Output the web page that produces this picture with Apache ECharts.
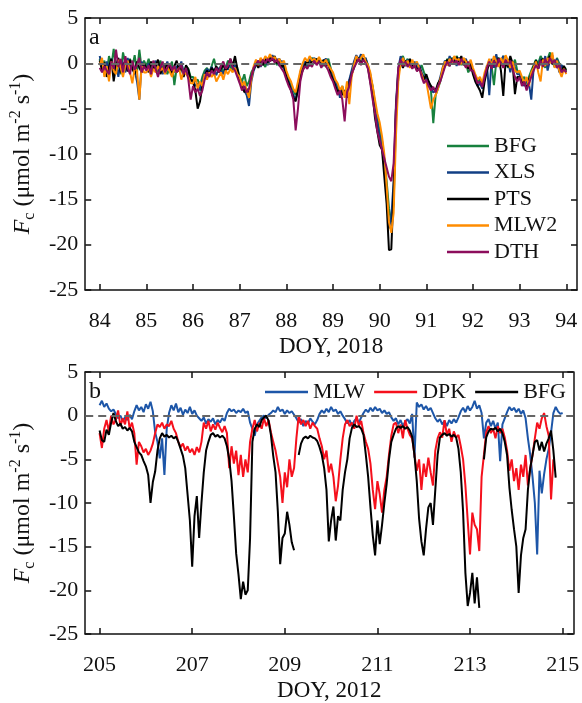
<!DOCTYPE html>
<html lang="en">
<head>
    <meta charset="UTF-8">
    <title>Fc</title>
    <style>
        html, body { margin: 0; padding: 0; background: #fff; }
    </style>
</head>
<body>
<div id="main" style="width:582px;height:703px"></div>
<script src="https://cdn.jsdelivr.net/npm/echarts@6/dist/echarts.min.js"></script>
<script>
    // values: one value every 0.05 day
    var step = 0.05;
    var startA = 84, startB = 205;
    var ticksA = [84, 85, 86, 87, 88, 89, 90, 91, 92, 93, 94];
    var ticksB = [205, 207, 209, 211, 213, 215];

    // panel a, DOY 84-94, 2018
    var bfgA = [
        0.5,-0.5,0.3,-1.0,0.8,-0.3,1.6,-0.5,0.2,-1.2,1.2,0.0,-0.8,0.5,-0.4,0.9,-1.0,1.5,-0.6,0.3,
        -0.3,0.5,-0.8,0.2,-0.5,-1.0,0.3,-0.6,-0.2,-1.2,-0.4,0.2,-2.4,-0.5,-0.8,0.0,-1.0,-0.3,-0.6,-1.5,
        -1.5,-2.0,-1.8,-2.5,-1.5,-0.8,-0.5,-1.0,-0.3,0.5,-0.6,-0.8,-0.2,-1.0,-0.5,0.3,-0.4,-0.8,0.2,-0.5,
        -1.5,-2.0,-1.2,-2.5,-2.0,-1.0,-0.5,0.2,-0.3,0.5,0.0,-0.4,0.6,0.2,0.8,0.3,-0.2,0.4,-0.5,0.0,
        -1.0,-1.8,-2.5,-3.0,-3.5,-2.5,-1.2,-0.5,0.0,-0.4,0.3,0.6,0.2,0.5,0.0,0.3,-0.3,0.2,0.5,-0.5,
        -1.5,-2.0,-2.8,-3.2,-2.5,-3.5,-2.8,-2.0,-1.0,-0.3,0.5,0.2,0.8,0.3,0.5,-0.2,-1.5,-2.5,-4.5,-6.0,
        -7.5,-8.5,-10.5,-13.0,-16.0,-17.5,-15.5,-6.0,-1.5,0.5,0.8,0.0,0.5,-0.3,0.2,-0.5,0.0,-0.8,-0.2,-1.0,
        -1.5,-2.0,-3.0,-6.6,-3.5,-2.8,-2.0,-1.0,-0.2,0.5,0.0,0.6,0.2,0.8,0.3,-0.2,0.4,0.0,-1.0,-0.5,
        -0.8,-1.5,-2.0,-1.8,-2.5,-1.5,-0.5,0.3,-0.3,-2.4,0.2,0.6,-0.2,0.8,0.3,-0.5,0.5,-0.2,0.4,-0.8,
        -1.0,-1.8,-1.5,-2.2,-1.5,-0.8,-0.2,0.4,0.0,0.8,0.3,-0.5,0.5,1.2,0.2,-0.4,0.6,0.0,-0.3,-0.6,
        -0.5
    ];
    var xlsA = [
        0.8,-0.3,-1.2,0.2,-0.6,0.5,-0.9,0.0,-1.5,0.4,-0.2,-1.0,0.6,-0.5,0.1,-0.8,-2.0,-4.0,0.2,-0.5,
        -0.6,0.0,-1.0,-0.4,0.3,-0.8,-0.2,-1.2,-0.5,0.2,-0.9,-0.4,-1.0,-0.3,-0.6,0.2,-1.2,-0.5,-0.8,-2.0,
        -1.8,-2.5,-2.2,-3.0,-2.0,-1.2,-0.6,-1.0,-0.4,-0.9,-1.3,-0.5,-0.8,-1.2,-0.3,-0.7,0.2,-0.5,-0.2,-0.8,
        -2.0,-2.5,-3.0,-3.5,-4.7,-2.0,-0.8,-0.2,0.3,-0.4,0.2,0.6,-0.2,0.4,0.9,0.2,0.5,-0.3,0.3,-0.6,
        -1.2,-2.0,-2.8,-3.5,-4.0,-3.0,-1.0,-0.3,0.2,-0.2,0.5,0.2,0.6,0.0,0.4,-0.1,0.3,0.5,0.0,-0.8,
        -1.2,-2.2,-2.5,-3.8,-3.0,-3.2,-2.6,-1.8,-0.8,0.2,0.9,0.4,1.0,0.2,0.6,-0.3,-1.2,-3.0,-5.0,-6.5,
        -8.0,-9.0,-11.5,-14.5,-18.2,-17.0,-13.0,-4.5,-0.5,0.8,0.2,-0.3,0.4,0.0,-0.5,0.2,-0.6,-0.2,-1.0,-1.5,
        -1.8,-2.2,-2.8,-3.2,-3.0,-2.5,-1.5,-0.5,0.3,-0.2,0.8,0.2,0.5,-0.3,0.6,0.2,0.0,0.5,-0.5,-0.2,
        -1.0,-1.8,-2.5,-2.2,-2.8,-1.8,-0.2,-3.5,0.5,-0.5,1.0,-0.3,0.3,0.8,-0.2,0.4,-1.0,0.2,-0.5,-1.2,
        -1.2,-2.0,-2.5,-1.8,-2.2,-4.0,-0.6,0.2,-0.5,0.5,-0.2,0.8,-0.8,0.3,0.9,-0.3,0.5,-1.0,-0.2,-0.5,
        -1.0
    ];
    var ptsA = [
        0.3,-0.8,0.1,-1.5,-0.4,0.5,-2.0,-0.3,0.6,-1.0,-0.2,0.3,-0.9,0.4,-0.6,-1.2,0.2,-0.5,-1.0,0.0,
        -0.5,-1.0,0.2,-0.6,-0.3,0.4,-1.2,-0.5,-0.8,0.0,-0.6,-1.1,-0.3,0.3,-0.9,-0.4,-1.5,-0.2,-0.7,-1.8,
        -2.0,-3.0,-5.0,-4.2,-2.5,-1.5,-0.8,-1.2,-0.5,-0.9,-0.3,-1.0,-0.6,-0.2,-0.8,-0.4,0.5,-0.3,0.8,-0.6,
        -1.8,-2.2,-3.2,-2.8,-3.5,-1.5,-0.6,0.0,-0.5,0.3,-0.2,0.4,0.1,0.7,0.3,0.8,0.0,0.5,-0.4,-0.2,
        -1.5,-2.2,-3.0,-3.8,-4.2,-2.8,-1.5,-0.8,-0.2,0.3,-0.3,0.4,0.0,0.5,0.2,-0.2,0.4,-0.4,0.1,-1.2,
        -1.8,-2.5,-3.2,-2.8,-3.5,-3.0,-3.8,-2.2,-1.2,-0.5,0.2,0.6,0.0,0.5,0.3,-0.5,-2.0,-3.5,-6.0,-7.5,
        -9.0,-9.5,-12.5,-15.5,-20.6,-20.5,-14.0,-5.0,-1.0,0.2,-0.5,0.3,-0.2,0.5,-0.3,0.0,-0.8,-0.4,-1.2,-1.8,
        -1.2,-2.0,-2.5,-2.8,-3.0,-2.2,-1.8,-0.8,0.0,0.4,-0.3,0.5,0.0,0.7,0.2,0.8,-0.2,0.3,-0.6,0.0,
        -1.2,-2.0,-2.5,-3.0,-3.8,-2.0,-0.8,0.0,-0.5,0.4,-0.2,0.6,-0.8,-3.6,0.3,-0.4,0.8,0.0,-3.4,-1.5,
        -1.5,-2.2,-2.0,-2.8,-1.8,-1.2,-0.4,0.3,-0.6,0.2,0.5,-0.2,0.4,0.8,-0.1,0.3,0.0,-0.5,-0.8,-0.3,
        -0.8
    ];
    var mlw2A = [
        -0.2,0.6,-1.5,-0.3,-2.0,0.2,-0.8,-1.2,0.4,-0.5,-1.5,-0.2,0.3,-1.0,-2.2,-0.5,-0.8,-4.0,-0.3,-1.0,
        -1.0,-0.4,-1.5,-0.6,-1.0,-0.3,-0.8,-0.5,-1.2,-0.4,-0.9,-1.5,-0.6,-1.0,-0.5,-1.8,-0.8,-1.2,-1.5,-2.2,
        -2.2,-1.5,-2.8,-2.0,-2.5,-1.2,-1.8,-1.0,-1.5,-1.1,-2.0,-1.5,-1.0,-1.8,-0.8,-1.2,-0.6,-1.0,-0.5,-1.2,
        -1.5,-2.5,-2.0,-3.0,-3.8,-1.8,-0.3,0.4,-0.2,0.6,0.2,0.8,0.4,1.0,0.5,0.7,0.2,0.5,-0.1,0.3,
        -0.8,-1.5,-2.0,-2.8,-3.2,-2.0,-0.8,0.0,0.6,0.2,0.8,0.3,0.5,0.1,0.7,0.2,0.0,0.4,-0.2,-0.6,
        -1.0,-1.8,-2.2,-3.0,-2.5,-3.8,-2.0,-4.5,-1.5,-0.2,0.8,0.3,0.6,1.0,0.2,-0.2,-1.0,-2.5,-4.0,-5.5,
        -6.5,-8.0,-10.0,-13.5,-17.5,-18.7,-16.5,-8.0,-2.0,0.0,0.6,-0.2,0.3,-0.5,0.4,-0.3,0.2,-0.6,-1.2,-2.0,
        -2.0,-3.5,-5.0,-4.0,-3.5,-2.8,-1.8,-0.6,0.2,-0.2,0.5,0.0,0.8,0.3,0.5,-0.1,0.6,0.2,-0.3,0.4,
        -0.5,-1.2,-1.8,-1.5,-2.2,-1.0,-0.3,0.5,-0.2,0.8,0.2,-0.4,0.6,0.0,0.9,0.3,-0.5,0.2,-0.8,-1.0,
        -0.8,-1.5,-2.2,-1.5,-2.5,-1.0,-0.5,0.2,-1.0,-2.0,0.4,-0.3,0.6,0.0,1.2,-0.5,0.3,-0.8,-1.5,-0.6,
        -1.2
    ];
    var dthA = [
        -0.5,-1.0,-0.3,-0.8,-1.2,0.2,-0.6,1.5,-0.4,0.5,-1.0,0.8,-0.5,-1.2,0.3,-0.7,-0.2,0.6,-1.0,-0.3,
        -0.8,-0.2,-1.2,0.3,-0.6,-1.5,-0.4,0.2,-1.0,-0.5,0.0,-0.8,-0.3,-1.0,-0.6,-0.2,-1.2,-0.5,-1.8,-4.0,
        -2.5,-3.2,-2.8,-3.6,-3.0,-1.8,-1.0,-1.5,-0.8,-1.2,-0.5,-1.0,-0.3,0.2,-0.6,-0.3,0.5,-0.4,-0.8,-1.5,
        -2.2,-3.0,-2.5,-3.2,-2.8,-1.5,-0.5,-0.1,0.3,-0.3,0.4,0.0,0.5,0.2,0.6,0.1,0.4,-0.2,-0.6,-1.0,
        -1.8,-2.5,-3.0,-4.0,-7.4,-5.0,-2.0,-0.8,-0.3,-0.6,0.0,-0.4,0.3,-0.2,0.2,-0.5,0.0,-0.3,-0.8,-1.5,
        -2.0,-2.8,-3.5,-3.0,-4.0,-6.4,-3.2,-2.5,-1.2,-0.5,0.0,0.5,-0.2,0.4,0.0,-0.6,-2.2,-4.0,-5.5,-7.5,
        -8.5,-9.5,-10.5,-11.5,-12.5,-13.0,-11.0,-5.0,-0.5,0.4,-0.3,0.2,-0.4,0.0,-0.6,-0.2,-0.9,-0.5,-1.5,-2.2,
        -1.8,-2.5,-3.0,-2.6,-3.2,-2.5,-2.0,-1.2,-0.4,0.2,-0.3,0.4,0.0,0.3,-0.2,0.5,0.0,-0.5,0.2,-0.8,
        -0.8,-1.5,-2.2,-2.0,-2.6,-1.5,-0.5,0.2,-0.6,0.3,-0.4,0.5,0.0,-0.5,0.4,-0.2,0.3,-0.6,-1.5,-2.0,
        -1.5,-2.5,-2.0,-3.0,-2.2,-1.5,-0.8,-0.2,-0.6,0.3,-0.4,0.5,-0.2,0.6,0.0,0.4,-0.5,-0.2,-1.0,-0.7,
        -1.0
    ];

    // panel b, DOY 205-215, 2012 (null = gap in record)
    var mlwB = [
        1.2,1.7,1.0,1.4,0.8,0.5,0.7,0.2,-0.3,0.0,-0.6,-0.2,-0.5,0.1,-0.4,0.5,1.2,0.6,1.0,0.4,
        1.3,0.8,1.6,0.5,-1.9,-3.0,-4.9,-2.6,-6.8,-1.5,0.3,1.2,0.6,1.4,0.4,0.9,0.1,0.7,0.3,1.0,
        0.2,0.6,0.0,-0.3,-0.6,-0.2,-0.9,-0.4,-0.7,-0.3,-1.0,-0.5,-0.8,-0.3,-0.6,0.3,0.8,0.5,0.7,0.3,
        0.6,0.4,0.8,0.3,0.5,-0.8,-1.5,-2.3,-1.0,-0.6,-0.2,0.0,-0.3,0.1,0.3,0.6,0.4,1.0,0.5,0.7,
        0.2,0.6,0.3,0.5,0.1,-0.3,-0.8,-0.4,-1.2,-0.6,-0.9,-0.3,-0.7,-1.0,-0.5,0.2,0.6,0.3,0.8,0.4,
        1.0,0.5,0.7,0.2,0.5,0.0,-0.4,-0.9,-0.5,-1.2,-0.6,-0.3,-0.8,-0.2,0.3,0.7,0.4,0.9,0.5,1.0,
        0.6,0.8,0.3,0.6,0.2,0.4,-0.2,-0.6,-0.3,-1.0,-0.5,-1.2,-0.7,-0.4,-0.9,0.2,-4.8,1.5,1.0,1.3,
        0.7,1.1,0.6,0.9,0.3,-0.3,-0.7,-0.4,-1.0,-0.6,-1.2,-0.5,-0.9,-0.4,-0.8,-0.2,0.5,0.9,0.4,1.1,
        0.6,1.0,1.7,0.8,1.2,0.3,-2.6,-0.8,-0.4,-1.2,-0.6,-1.5,-0.8,-5.2,-1.0,-0.3,0.4,1.0,0.6,0.9,
        0.4,0.8,0.2,0.6,-0.3,-2.6,-4.5,-7.0,-10.0,-15.9,-6.3,-8.9,-6.7,-5.0,-3.8,-1.9,0.3,1.0,0.5,0.2,
        0.3
    ];
    var dpkB = [
        -2.0,-3.7,-1.5,-0.5,-1.8,0.0,-1.0,-0.5,0.6,-1.2,-0.3,-1.0,0.5,-1.5,-0.8,-2.0,-5.6,-3.0,-3.5,-4.2,
        -3.8,-4.5,-4.0,-3.2,-2.0,-1.0,-1.3,-0.8,-1.5,-1.0,-1.2,-0.6,-1.5,-2.0,-3.0,-3.6,-3.2,-4.0,-3.5,-4.2,
        -3.8,-4.5,-3.6,-4.2,-3.0,-0.8,-1.5,-0.6,-1.8,-1.0,-1.6,-0.8,-1.4,-1.9,-1.2,-2.0,-6.0,-3.5,-5.5,-4.0,
        -6.8,-4.5,-7.0,-5.0,-6.5,-3.0,-1.5,-0.5,-1.8,-0.8,-1.5,-0.3,-1.2,-0.5,-1.9,-3.0,-4.0,-5.5,-7.0,-10.0,
        -6.5,-8.2,-5.0,-7.0,-6.0,-2.6,0.0,-1.0,-0.5,-1.2,-0.6,-1.5,-0.8,-1.2,-1.5,-2.6,-3.5,-5.0,-4.0,-6.5,
        -5.5,-7.0,-9.8,-8.0,-5.0,-2.6,-1.0,-0.5,-1.2,-0.8,-1.5,0.0,-1.2,-0.6,-2.0,-3.0,-3.8,-5.5,-8.5,-10.7,
        -7.5,-9.0,-11.1,-8.5,-7.0,-4.5,-2.3,-1.0,-0.8,-2.0,-1.0,-2.6,-0.5,-1.5,-2.2,-2.6,-4.5,-6.3,-5.0,-8.5,
        -5.5,-7.0,-4.8,-6.5,-8.0,-4.0,-2.6,-1.9,-2.5,-0.5,-2.2,-1.5,-3.0,-1.8,-2.5,-2.2,-3.5,-5.0,-8.0,-12.0,
        -15.9,-11.1,-12.5,-13.0,-15.5,-7.0,-4.5,-1.9,-1.2,-2.0,-1.5,-2.6,-1.2,-2.0,-1.5,-2.5,-4.0,-6.3,-5.0,-7.5,
        -6.0,-8.5,-5.6,-7.0,-4.5,-8.0,-6.0,-4.5,-2.6,-0.8,-1.5,-0.3,0.3,-1.2,-2.3,-9.6,-5.0,null,null,null,
        null
    ];
    var bfgB = [
        -1.7,-2.8,-3.0,-1.6,-2.2,-0.8,0.3,-0.6,-1.2,-0.9,-1.5,-1.3,-1.7,-1.4,-1.8,-3.0,-3.6,-4.2,-4.5,-5.2,
        -5.8,-6.8,-10.0,-7.6,-6.4,-4.0,-2.6,-2.0,-2.4,-2.2,-2.5,-2.3,-2.6,-2.4,-3.0,-3.8,-4.6,-6.0,-9.0,-12.0,
        -17.3,-11.5,-9.2,-14.0,-10.0,-6.5,-4.0,-3.0,-2.2,-2.0,-2.4,-2.2,-2.5,-2.3,-2.6,-3.5,-5.0,-7.5,-11.5,-15.8,
        -18.2,-21.0,-19.0,-20.5,-20.0,-14.0,-3.0,-1.5,-1.0,-1.3,-0.5,-0.2,0.0,-0.6,-2.2,-4.6,-6.5,-11.0,-17.0,-14.0,
        -13.5,-11.0,-12.5,-14.5,-15.4,null,-4.5,-3.2,-2.6,-2.4,-2.6,-2.3,-2.5,-2.6,-2.9,-3.6,-4.5,-6.0,-8.5,-14.4,
        -12.0,-10.4,-14.3,-11.5,-12.0,-8.5,-6.5,-5.0,-2.6,-1.4,-1.0,-1.3,-1.2,-1.5,-2.2,-4.5,-7.0,-10.5,-13.7,-16.0,
        -12.0,-14.7,-12.5,-10.0,-7.8,-5.0,-3.0,-2.2,-1.5,-1.2,-1.4,-1.2,-1.5,-1.3,-1.7,-2.4,-4.5,-7.5,-11.8,-14.4,
        -16.0,-13.0,-10.5,-10.0,-12.5,-8.5,-4.5,-2.5,-2.2,-2.0,-2.3,-2.1,-2.4,-2.2,-2.5,-3.8,-6.5,-11.0,-18.0,-21.8,
        -20.3,-18.0,-21.5,-18.5,-22.0,null,-5.0,-2.5,-1.8,-1.5,-1.6,-1.4,-1.8,-1.5,-2.0,-3.0,-4.5,-8.2,-10.8,-13.0,
        -15.0,-20.3,-16.0,-14.0,-13.0,-8.5,-6.0,-4.5,-3.0,-2.8,-4.0,-3.0,-4.1,-3.2,-2.6,-1.7,-4.0,-7.1,null,null,
        null
    ];

    var FONT = 'Liberation Serif';

    function pairs(start, vals) {
        return vals.map(function (v, i) {
            return [+(start + i * step).toFixed(2), v];
        });
    }

    function lineSeries(name, color, start, vals, gi) {
        return {
            name: name,
            type: 'line',
            xAxisIndex: gi * 2,
            yAxisIndex: gi * 2,
            data: pairs(start, vals),
            showSymbol: false,
            symbol: 'none',
            connectNulls: false,
            color: color,
            lineStyle: { color: color, width: 2 },
            animation: false
        };
    }

    // dashed zero reference, carried on the first series of each panel
    function zeroLine(s) {
        s.markLine = {
            silent: true,
            symbol: 'none',
            label: { show: false },
            lineStyle: { color: '#666', type: [8, 5], width: 2 },
            data: [{ yAxis: 0 }]
        };
        return s;
    }

    var axisLine = { show: true, onZero: false, lineStyle: { color: '#111', width: 1.5 } };
    var tickStyle = { inside: true, length: 6, lineStyle: { color: '#111', width: 1.5 } };
    var labelStyle = { color: '#111', fontFamily: FONT, fontSize: 22 };

    var yName = '{i|F}{sub|c}{t| (μmol m}{sup|-2}{t| s}{sup|-1}{t|)}';
    var yRich = {
        i: { fontFamily: FONT, fontSize: 24, fontStyle: 'italic', lineHeight: 30, verticalAlign: 'middle' },
        sub: { fontFamily: FONT, fontSize: 16, lineHeight: 30, verticalAlign: 'bottom' },
        t: { fontFamily: FONT, fontSize: 24, lineHeight: 30, verticalAlign: 'middle' },
        sup: { fontFamily: FONT, fontSize: 16, lineHeight: 30, verticalAlign: 'top' }
    };

    function xAxes(gi, min, max, ticks, name) {
        return [{
            gridIndex: gi, type: 'value', position: 'bottom', min: min, max: max,
            axisLine: axisLine,
            axisTick: Object.assign({ customValues: ticks }, tickStyle),
            axisLabel: Object.assign({ customValues: ticks, margin: 20 }, labelStyle),
            splitLine: { show: false },
            name: name, nameLocation: 'middle', nameGap: 45,
            nameTextStyle: { color: '#111', fontFamily: FONT, fontSize: 23 }
        }, {
            gridIndex: gi, type: 'value', position: 'top', min: min, max: max,
            axisLine: axisLine,
            axisTick: Object.assign({ customValues: ticks }, tickStyle),
            axisLabel: { show: false },
            splitLine: { show: false }
        }];
    }

    function yAxes(gi) {
        return [{
            gridIndex: gi, type: 'value', position: 'left', min: -25, max: 5, interval: 5,
            axisLine: axisLine, axisTick: tickStyle,
            axisLabel: Object.assign({ margin: 7 }, labelStyle),
            splitLine: { show: false },
            name: yName, nameLocation: 'middle', nameRotate: 90, nameGap: 40,
            nameTextStyle: { color: '#111', rich: yRich }
        }, {
            gridIndex: gi, type: 'value', position: 'right', min: -25, max: 5, interval: 5,
            axisLine: axisLine, axisTick: tickStyle,
            axisLabel: { show: false },
            splitLine: { show: false }
        }];
    }

    var seriesA = [
        zeroLine(lineSeries('BFG', '#17803d', startA, bfgA, 0)),
        lineSeries('XLS', '#123f85', startA, xlsA, 0),
        lineSeries('PTS', '#000000', startA, ptsA, 0),
        lineSeries('MLW2', '#ff8c00', startA, mlw2A, 0),
        lineSeries('DTH', '#8c0d5c', startA, dthA, 0)
    ];
    // trailing space keeps this BFG apart from panel a's BFG in the legends
    var seriesB = [
        zeroLine(lineSeries('MLW', '#1d56a8', startB, mlwB, 1)),
        lineSeries('DPK', '#f5101c', startB, dpkB, 1),
        lineSeries('BFG ', '#000000', startB, bfgB, 1)
    ];

    var legendText = { fontFamily: FONT, fontSize: 22, color: '#111' };

    var myChart = echarts.init(document.getElementById('main'));
    myChart.setOption({
        backgroundColor: '#fff',
        animation: false,
        title: [
            { text: 'a', left: 84, top: 21, textStyle: { fontFamily: FONT, fontSize: 24, fontWeight: 'normal', color: '#111' } },
            { text: 'b', left: 84, top: 375, textStyle: { fontFamily: FONT, fontSize: 24, fontWeight: 'normal', color: '#111' } }
        ],
        grid: [
            { left: 79, top: 18, width: 498, height: 272 },
            { left: 79, top: 372, width: 498, height: 272 }
        ],
        legend: [{
            data: ['BFG', 'XLS', 'PTS', 'MLW2', 'DTH'],
            orient: 'vertical', left: 442, top: 130,
            icon: 'rect', itemWidth: 42, itemHeight: 2.5, itemGap: 4.5,
            textStyle: legendText
        }, {
            data: ['MLW', 'DPK', 'BFG '],
            orient: 'horizontal', left: 260, top: 376, width: 320,
            icon: 'rect', itemWidth: 43, itemHeight: 2.5, itemGap: 9,
            textStyle: legendText
        }],
        xAxis: xAxes(0, 83.69, 94.23, ticksA, 'DOY, 2018').concat(xAxes(1, 204.69, 215.23, ticksB, 'DOY, 2012')),
        yAxis: yAxes(0).concat(yAxes(1)),
        series: seriesA.concat(seriesB)
    });
</script>
</body>
</html>
